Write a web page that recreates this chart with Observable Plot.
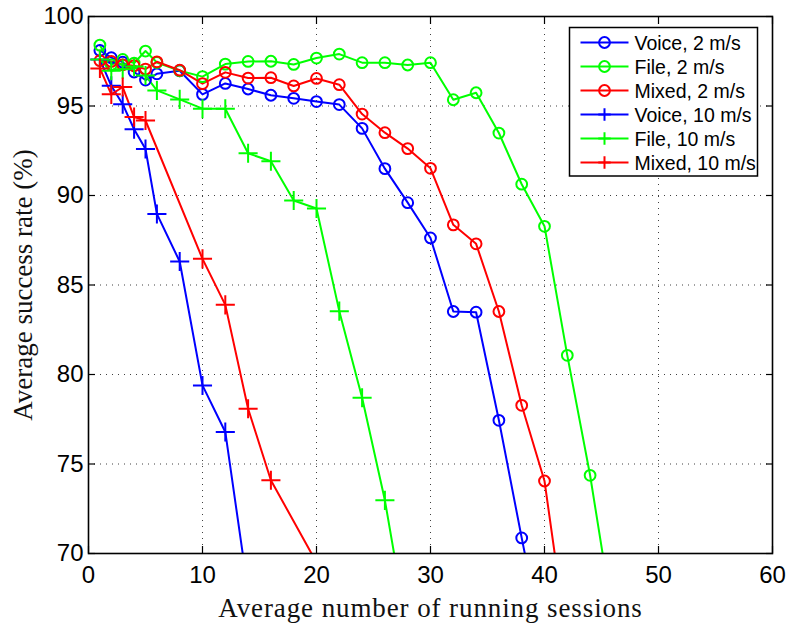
<!DOCTYPE html>
<html><head><meta charset="utf-8">
<script src="https://cdn.jsdelivr.net/npm/d3@7"></script>
<script src="https://cdn.jsdelivr.net/npm/@observablehq/plot@0.6"></script>
<style>
body{margin:0;background:#fff}
#wrap{position:relative;width:788px;height:627px}
#legend{position:absolute;left:0;top:0;pointer-events:none}
</style></head><body><div id="wrap"></div>
<script>
const seriesNames = ["Voice, 2 m/s","File, 2 m/s","Mixed, 2 m/s","Voice, 10 m/s","File, 10 m/s","Mixed, 10 m/s"];
const seriesColors = ["#0000ff","#00ff00","#ff0000","#0000ff","#00ff00","#ff0000"];
const seriesSymbols = ["circle","circle","circle","plus","plus","plus"];

const xVoice2 = [1,2,3,4,5,6,8,10,12,14,16,18,20,22,24,26,28,30,32,34,36,38,40];
const yVoice2 = [98.1,97.7,97.45,96.9,96.45,96.8,96.97,95.65,96.26,95.95,95.6,95.43,95.25,95.08,93.75,91.5,89.6,87.63,83.52,83.48,77.44,70.87,64.5];

const xFile2 = [1,2,3,4,5,6,8,10,12,14,16,18,20,22,24,26,28,30,32,34,36,38,40,42,44,46];
const yFile2 = [98.4,97.3,97.6,97.4,98.07,97.43,96.97,96.64,97.34,97.49,97.5,97.32,97.68,97.9,97.42,97.42,97.29,97.42,95.35,95.74,93.49,90.63,88.28,81.07,74.37,66.4];

const xMixed2 = [1,2,3,4,5,6,8,10,12,14,16,18,20,22,24,26,28,30,32,34,36,38,40,42];
const yMixed2 = [97.53,97.49,97.3,97.25,97.06,97.47,97.0,96.25,96.88,96.56,96.58,96.12,96.54,96.19,94.55,93.51,92.62,91.52,88.36,87.3,83.52,78.28,74.05,65.0];

const xVoice10 = [1,2,3,4,5,6,8,10,12,14];
const yVoice10 = [97.6,96.13,95.1,93.7,92.6,88.97,86.31,79.39,76.79,67.9];

const xFile10 = [1,2,3,4,5,6,8,10,12,14,16,18,20,22,24,26,28];
const yFile10 = [97.6,96.97,97.06,97.2,96.7,95.87,95.37,94.85,94.85,92.36,91.91,89.72,89.27,83.54,78.7,72.97,65.6];

const xMixed10 = [1,2,3,4,5,10,12,14,16,20];
const yMixed10 = [97.1,95.65,96.06,94.38,94.19,86.46,83.89,78.09,74.09,69.5];

const xTicks = [0,10,20,30,40,50,60];
const yTicks = [70,75,80,85,90,95,100];
const xLabel = "Average number of running sessions";
const yLabel = "Average success rate (%)";

const seriesX = [xVoice2,xFile2,xMixed2,xVoice10,xFile10,xMixed10];
const seriesY = [yVoice2,yFile2,yMixed2,yVoice10,yFile10,yMixed10];
const rows = seriesNames.flatMap((s,i) => seriesX[i].map((x,j) => ({s, x, y: seriesY[i][j], sym: seriesSymbols[i]})));

const tickFont = "Liberation Sans, Arial, sans-serif";
const labelFont = "Liberation Serif, Times New Roman, serif";

const chart = Plot.plot({
  width: 788, height: 627,
  marginLeft: 88, marginRight: 16, marginTop: 16, marginBottom: 74,
  style: {background: "#fff", color: "#000", fontFamily: tickFont},
  x: {domain: [0,60]},
  y: {domain: [70,100]},
  color: {domain: seriesNames, range: seriesColors},
  marks: [
    Plot.gridX(xTicks, {stroke: "#000", strokeOpacity: 0.75, strokeDasharray: "1,5", strokeWidth: 1}),
    Plot.gridY(yTicks, {stroke: "#000", strokeOpacity: 0.75, strokeDasharray: "1,5", strokeWidth: 1}),
    Plot.line(rows, {x: "x", y: "y", z: "s", stroke: "s", strokeWidth: 2, clip: true}),
    Plot.dot(rows.filter(d => d.sym === "circle"), {x: "x", y: "y", stroke: "s", symbol: "circle", r: 5.4, strokeWidth: 2, fill: "none", clip: true}),
    Plot.dot(rows.filter(d => d.sym === "plus"), {x: "x", y: "y", stroke: "s", symbol: "plus", r: 6.2, strokeWidth: 2, clip: true}),
    Plot.axisX(xTicks, {anchor: "bottom", tickSize: -7, tickFormat: () => "", label: null, strokeWidth: 1.2}),
    Plot.axisX(xTicks, {anchor: "top", tickSize: -7, tickFormat: () => "", label: null, strokeWidth: 1.2}),
    Plot.axisY(yTicks, {anchor: "left", tickSize: -7, tickFormat: () => "", label: null, strokeWidth: 1.2}),
    Plot.axisY(yTicks, {anchor: "right", tickSize: -7, tickFormat: () => "", label: null, strokeWidth: 1.2}),
    Plot.axisX(xTicks, {anchor: "bottom", tickSize: 0, tickPadding: 12, label: null, fontSize: 24, fontFamily: tickFont}),
    Plot.axisY(yTicks, {anchor: "left", tickSize: 0, tickPadding: 5, label: null, fontSize: 24, fontFamily: tickFont}),
    Plot.frame({stroke: "#000", strokeWidth: 1.6}),
    Plot.text([xLabel], {text: d => d, frameAnchor: "bottom", textAnchor: "middle", dy: 63, fontSize: 27, fontFamily: labelFont, fill: "#111"}),
    Plot.text([yLabel], {text: d => d, frameAnchor: "left", textAnchor: "middle", rotate: -90, dx: -65, fontSize: 27, fontFamily: labelFont, fill: "#111"})
  ]
});
chart.querySelectorAll("text").forEach(t => { if (t.textContent === xLabel) t.style.letterSpacing = "0.9px"; });
document.getElementById("wrap").appendChild(chart);

// Legend (inside plot, top-right, as in the reference)
const lg = d3.select("#wrap").append("svg").attr("id","legend").attr("width",788).attr("height",627);
const bx = 569.5, by = 27.5, bw = 188, bh = 148.5;
lg.append("rect").attr("x",bx).attr("y",by).attr("width",bw).attr("height",bh).attr("fill","#fff").attr("stroke","#000").attr("stroke-width",1.5);
seriesNames.forEach((name,i) => {
  const cy = by + 15 + i*24;
  const g = lg.append("g");
  g.append("line").attr("x1",bx+11).attr("x2",bx+59).attr("y1",cy).attr("y2",cy).attr("stroke",seriesColors[i]).attr("stroke-width",2);
  const mx = bx + 35;
  if (seriesSymbols[i] === "circle") {
    g.append("circle").attr("cx",mx).attr("cy",cy).attr("r",5.4).attr("fill","none").attr("stroke",seriesColors[i]).attr("stroke-width",2);
  } else {
    g.append("path").attr("d",`M${mx-6.2},${cy}H${mx+6.2}M${mx},${cy-6.2}V${cy+6.2}`).attr("stroke",seriesColors[i]).attr("stroke-width",2);
  }
  g.append("text").attr("x",bx+65).attr("y",cy).attr("dy","0.36em").attr("font-family",tickFont).attr("font-size",19.5).attr("fill","#000").text(name);
});
</script>
</body></html>
